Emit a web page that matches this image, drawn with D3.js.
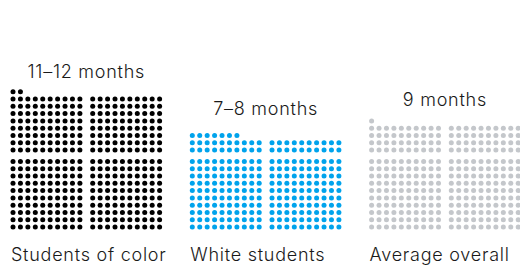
<!DOCTYPE html>
<html>
<head>
<meta charset="utf-8">
<script src="https://cdn.jsdelivr.net/npm/d3@7"></script>
<style>
  body { margin: 0; background: #fff; }
  svg text { font-family: Inter, "Liberation Sans", sans-serif; fill: #1a1a1a; font-weight: 300; letter-spacing: 0.75px; }
</style>
</head>
<body>
<svg width="520" height="267"></svg>
<script>
// one dot per unit, filled from the bottom, 20 across (two 10x10 blocks side by side)
const groups = ["Students of color", "White students", "Average overall"];
const dotCounts = [362, 247, 281];
const monthLabels = ["11\u201312 months", "7\u20138 months", "9 months"];
const monthsTop = [12, 8, 9];
const colors = ["#000000", "#00a3ec", "#c4c7cb"];

const svg = d3.select("svg");

// group positions (first dot column)
const groupX = d3.scaleBand().domain(groups).range([13, 13 + 3 * 179.3]);
// blocks and cells inside a group
const blockX = d3.scaleLinear().domain([0, 1]).range([0, 79.7]);
const cellX = d3.scaleLinear().domain([0, 9]).range([0, 66.9]);
const blockY = d3.scaleLinear().domain([0, 1]).range([227, 150]);
const cellY = d3.scaleLinear().domain([0, 9]).range([0, -65.5]);
// label height follows the months value
const labelY = d3.scaleLinear().domain([9, 12]).range([106, 78]);

const dots = [];
groups.forEach((g, gi) => {
    d3.range(dotCounts[gi]).forEach(i => {
        const row = Math.floor(i / 20), col = i % 20;
        dots.push({
            group: g,
            x: groupX(g) + blockX(Math.floor(col / 10)) + cellX(col % 10),
            y: blockY(Math.floor(row / 10)) + cellY(row % 10),
            color: colors[gi]
        });
    });
});

svg.append("g")
    .selectAll("circle")
    .data(dots)
    .enter()
    .append("circle")
        .attr("cx", d => d.x)
        .attr("cy", d => d.y)
        .attr("r", 2.5)
        .style("fill", d => d.color);

const groupW = blockX(1) + cellX(9);

// months labels above each pile
svg.append("g")
    .selectAll("text")
    .data(groups)
    .enter()
    .append("text")
        .attr("x", g => groupX(g) + groupW / 2)
        .attr("y", (g, i) => labelY(monthsTop[i]))
        .attr("text-anchor", "middle")
        .style("font-size", "18px")
        .text((g, i) => monthLabels[i]);

// group names at the bottom
svg.append("g")
    .selectAll("text")
    .data(groups)
    .enter()
    .append("text")
        .attr("x", g => groupX(g) - 2)
        .attr("y", 261)
        .style("font-size", "18px")
        .text(g => g);
</script>
</body>
</html>
